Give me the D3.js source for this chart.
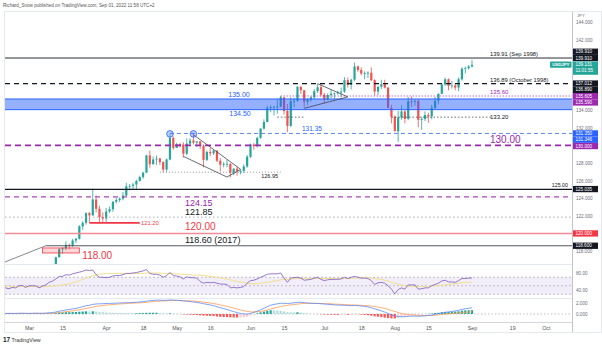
<!DOCTYPE html>
<html><head><meta charset="utf-8">
<script src="https://cdn.jsdelivr.net/npm/d3@7"></script>
<style>body{margin:0;background:#fff}svg{display:block;font-family:"Liberation Sans",Arial,sans-serif}</style>
</head><body><svg id="c" width="602" height="346"></svg>
<script>
// ---------------- DATA ----------------
const firstDay = "2022-02-16";
const opens = [115.55,115.45,114.95,115.00,114.75,115.10,115.00,115.50,115.55,
114.95,114.90,115.50,115.50,114.80,115.30,115.70,115.85,116.10,117.30,118.20,118.30,118.70,118.60,119.20,119.40,120.80,121.20,122.30,122.05,123.85,122.80,121.85,
121.70,122.50,122.75,123.60,123.80,123.95,124.30,125.35,125.40,125.55,125.95,126.40,126.90,128.85,127.85,128.40,128.50,128.10,127.25,128.40,130.85,
129.70,130.15,130.10,129.05,130.20,130.55,130.30,130.45,129.95,128.35,129.25,129.10,129.40,128.25,127.80,127.90,127.90,126.90,127.35,127.10,127.10,127.60,
128.70,130.10,129.90,130.85,131.90,132.65,134.25,134.35,134.40,134.40,135.45,133.90,132.20,135.00,135.05,136.65,136.25,134.95,135.20,135.45,136.15,136.60,
135.75,135.20,135.70,135.85,135.90,136.00,136.10,137.40,136.85,137.45,138.95,138.55,138.15,138.20,138.25,137.40,136.10,136.65,136.95,136.55,134.25,
133.25,131.60,133.15,133.85,133.00,135.00,134.95,135.05,132.90,133.00,133.45,133.30,134.25,135.05,135.85,136.90,137.50,136.75,136.80,136.55,137.50,138.70,138.75,
138.95];
const highs = [115.75,115.50,115.20,115.10,115.15,115.25,115.70,115.75,115.60,
115.20,115.60,115.80,115.55,115.45,115.80,116.00,116.20,117.35,118.35,118.45,119.10,118.85,119.40,119.50,120.95,121.40,122.40,122.45,125.10,124.30,123.15,122.40,
122.90,123.05,123.65,124.05,124.10,124.70,125.75,125.60,125.75,126.10,126.55,127.00,128.95,129.40,128.75,128.85,128.60,128.20,128.50,131.25,131.00,
130.30,130.25,130.35,130.80,130.80,131.35,130.45,130.45,130.10,129.40,129.75,129.50,129.45,128.55,128.10,128.35,127.95,127.40,127.55,127.30,127.85,128.90,
130.20,130.25,130.95,131.95,132.95,134.50,134.55,134.45,135.20,135.60,135.45,134.70,135.45,135.40,136.70,136.70,136.30,135.35,135.55,136.40,137.00,136.95,
135.95,135.90,136.35,136.00,136.20,136.55,137.75,137.70,137.55,139.40,139.05,138.85,138.40,138.40,138.85,137.50,136.70,137.45,137.45,136.60,134.60,
133.40,133.90,134.55,134.00,135.50,135.55,135.20,135.20,133.25,133.85,133.70,134.60,135.50,135.90,137.00,137.70,137.60,137.30,137.05,137.70,138.85,138.95,139.10,
139.70];
const lows = [115.00,114.85,114.75,114.45,114.55,114.95,114.40,115.30,114.85,
114.65,114.75,115.35,114.80,114.65,115.05,115.50,115.75,116.00,117.25,117.70,118.10,118.20,118.45,118.90,119.30,120.40,121.00,121.20,122.00,122.40,121.30,121.30,
121.30,122.30,122.45,123.40,123.55,123.75,124.25,124.90,125.05,125.00,125.90,126.20,126.85,127.45,127.85,127.75,127.75,126.95,127.00,128.30,129.50,
129.70,129.75,128.60,128.90,130.00,130.10,129.80,129.60,127.50,128.20,128.75,128.90,128.10,127.05,127.50,127.50,126.35,126.60,126.55,126.70,126.90,127.45,
128.55,129.50,129.75,130.75,131.80,132.60,133.75,133.40,133.60,134.30,133.50,131.50,132.10,134.35,134.95,135.80,134.30,134.55,134.95,135.25,135.95,135.55,
134.75,135.10,135.35,135.25,135.75,135.45,135.95,136.55,136.35,137.30,138.35,137.95,137.50,137.65,137.30,135.65,135.70,136.40,136.45,134.20,132.50,
131.60,130.40,132.90,132.50,132.85,134.35,134.50,132.05,131.75,132.75,132.55,132.95,134.15,134.65,135.80,136.75,136.25,136.45,136.25,136.15,137.35,138.15,138.60,
138.85];
const closes = [115.45,114.95,115.00,114.75,115.10,115.00,115.50,115.55,114.95,
114.90,115.50,115.50,114.80,115.30,115.70,115.85,116.10,117.30,118.20,118.30,118.70,118.60,119.20,119.40,120.80,121.20,122.30,122.05,123.85,122.80,121.85,121.70,
122.50,122.75,123.60,123.80,123.95,124.30,125.35,125.40,125.55,125.95,126.40,126.90,128.85,127.85,128.40,128.50,128.10,127.25,128.40,130.85,129.70,
130.15,130.10,129.05,130.20,130.55,130.30,130.45,129.95,128.35,129.25,129.10,129.40,128.25,127.80,127.90,127.90,126.90,127.35,127.10,127.10,127.60,128.70,
130.10,129.90,130.85,131.90,132.65,134.25,134.35,134.40,134.40,135.45,133.90,132.20,135.00,135.05,136.65,136.25,134.95,135.20,135.45,136.15,136.60,135.75,
135.20,135.70,135.85,135.90,136.00,136.10,137.40,136.85,137.45,138.95,138.55,138.15,138.20,138.25,137.40,136.10,136.65,136.95,136.55,134.25,133.25,
131.60,133.15,133.85,133.00,135.00,134.95,135.05,132.90,133.00,133.45,133.30,134.25,135.05,135.85,136.90,137.50,136.75,136.80,136.55,137.50,138.70,138.75,138.95,
139.13];
const rsi = [48,44,45,43,46,45,50,51,46, 50,50,50,45,49,52,58,61, 66,72,72,76,75,78,80,82, 84,87,86,87,76,70,70,
69,70,73,74,74,76,79, 79,80,81,83,85,88,79, 77,77,75,70,74,81,74, 73,71,66,71,69,69,68, 60,56,58,57,58,56,54,
54,53,45,46,45,46,48,56, 62,63,66,70,73,77,78, 78,78,80,68,58,68,69, 70,68,63,64,65,68,70,65, 62,64,65,65,65,66,70,
67,70,72,70,68,68,67, 62,53,57,58,56,50,42, 31,41,45,42,52,52,52, 42,43,45,45,50,53,56, 61,63,59,59,58,62,67,67,68,68];
const rsiMA = [50,50,49,49,48,48,48,48,48, 48,48,48,48,48,48,49,49, 50,51,52,53,55,57,59,62, 65,68,71,73,75,77,78,
79,79,79,79,79,79,79, 79,79,79,79,79,80,80, 80,80,80,79,79,79,78, 78,77,77,76,76,75,75, 75,74,73,72,71,70,69,
67,66,64,62,60,59,58,56, 55,55,55,56,57,58,59, 61,62,64,65,65,66,66, 67,67,67,67,67,67,67,67, 67,67,67,67,67,67,67,
67,67,68,68,68,69,69, 68,67,66,65,63,61,58, 56,54,52,50,49,48,48, 48,48,48,49,50,50,50, 51,52,53,54,55,56,57,58,58,58];
const macd = [0.1,0.1,0.1,0.1,0.1,0.1,0.12,0.14,0.12, 0.1,0.12,0.15,0.12,0.12,0.15,0.2,0.25, 0.35,0.5,0.6,0.72,0.8,0.9,1.0,1.15,
1.3,1.45,1.55,1.7,1.78,1.8,1.82, 1.85,1.88,1.9,1.92,1.95,1.97,2.0, 2.02,2.05,2.08,2.12,2.18,2.28,2.35, 2.4,2.45,2.45,2.42,2.42,2.48,2.46,
2.42,2.38,2.3,2.26,2.2,2.12,2.05, 1.95,1.82,1.72,1.6,1.48,1.3,1.12, 0.95,0.8,0.6,0.42,0.25,0.1,0.0,-0.02,
0.1,0.3,0.5,0.75,1.0,1.3,1.55, 1.7,1.8,1.9,1.9,1.85,1.92,1.98, 2.05,2.08,2.02,1.95,1.9,1.88,1.86,1.82,
1.76,1.72,1.68,1.62,1.58,1.55,1.55, 1.5,1.48,1.5,1.48,1.42,1.35,1.25, 1.1,0.9,0.75,0.55,0.35,0.1,-0.15,
-0.35,-0.45,-0.48,-0.48,-0.42,-0.38,-0.36, -0.4,-0.38,-0.32,-0.25,-0.18,-0.05,0.05, 0.2,0.3,0.38,0.45,0.55,0.65,0.8,0.92,1.02,1.1];
const signal = [0.1,0.1,0.1,0.1,0.1,0.1,0.1,0.1,0.1, 0.1,0.1,0.11,0.11,0.11,0.12,0.13,0.15, 0.19,0.25,0.32,0.4,0.48,0.56,0.65,0.75,
0.86,0.98,1.1,1.22,1.33,1.42,1.5, 1.57,1.63,1.68,1.73,1.77,1.81,1.85, 1.88,1.92,1.95,1.98,2.02,2.07,2.13, 2.18,2.23,2.28,2.31,2.33,2.36,2.38,
2.39,2.39,2.37,2.35,2.32,2.28,2.23, 2.18,2.1,2.03,1.94,1.85,1.74,1.62, 1.49,1.35,1.2,1.04,0.88,0.72,0.58,0.46,
0.38,0.36,0.39,0.46,0.57,0.71,0.88, 1.04,1.19,1.33,1.44,1.53,1.61,1.68, 1.75,1.82,1.86,1.88,1.88,1.88,1.88,1.87,
1.85,1.82,1.8,1.76,1.73,1.7,1.67, 1.64,1.61,1.59,1.57,1.54,1.5,1.46, 1.4,1.32,1.23,1.12,0.99,0.82,0.63,
0.44,0.26,0.11,-0.01,-0.1,-0.16,-0.2, -0.24,-0.27,-0.28,-0.28,-0.26,-0.22,-0.17, -0.1,-0.04,0.02,0.07,0.12,0.17,0.22,0.28,0.35,0.42];
const hist = [0,0,0,0,0,0,0.02,0.04,0.02, 0,0.02,0.04,0.01,0.01,0.03,0.07,0.1, 0.16,0.25,0.28,0.32,0.32,0.34,0.35,0.4,
0.44,0.47,0.45,0.48,0.45,0.38,0.32, 0.28,0.25,0.22,0.19,0.18,0.16,0.15, 0.14,0.13,0.13,0.14,0.16,0.21,0.22, 0.22,0.22,0.17,0.11,0.09,0.12,0.08,
0.03,-0.01,-0.07,-0.09,-0.12,-0.16,-0.18, -0.23,-0.28,-0.31,-0.34,-0.37,-0.44,-0.5, -0.54,-0.55,-0.6,-0.62,-0.63,-0.62,-0.58,-0.48,
-0.28,-0.06,0.11,0.29,0.43,0.59,0.67, 0.66,0.61,0.57,0.46,0.32,0.31,0.3, 0.3,0.26,0.16,0.07,0.02,0,-0.02,-0.05,
-0.09,-0.1,-0.12,-0.14,-0.15,-0.15,-0.12, -0.14,-0.13,-0.09,-0.09,-0.12,-0.15,-0.21, -0.3,-0.42,-0.48,-0.57,-0.64,-0.72,-0.78,
-0.79,-0.71,-0.59,-0.47,-0.32,-0.22,-0.16, -0.16,-0.11,-0.04,0.03,0.08,0.17,0.22, 0.3,0.34,0.36,0.38,0.43,0.48,0.58,0.64,0.67,0.68];

const xTickDates  = ["2022-03-01","2022-03-15","2022-04-01","2022-04-18","2022-05-02","2022-05-16","2022-06-01","2022-06-15","2022-07-01","2022-07-18","2022-08-01","2022-08-15","2022-09-01","2022-09-19","2022-10-03"];
const xTickLabels = ["Mar","15","Apr","18","May","16","Jun","15","Jul","18","Aug","15","Sep","19","Oct"];
const priceTicks = [144,142,140,138,136,134,132,130,128,126,124,122,120,118];
const rsiTicks = [80,40];
const macdTicks = [2,0];
const tagPrices = [139.910,139.910,139.131,137.012,136.890,135.605,135.590,131.350,131.346,130.000,125.035,120.000,118.600];
const tagKinds  = ["black","black","last","black","black","purple","purple","blue","blue","purple","black","red","black"];
const lastTime = "11:01:55";
const symbol = "USDJPY";
const header = "Richard_Snow published on TradingView.com, Sep 01, 2022 11:58 UTC+2";

// drawn levels / annotations (prices, dates)
const lvlSep1998 = 139.91, lblSep1998 = "139.91 (Sep 1998)";
const lvlOct1998 = 137.012, lblOct1998 = "136.89 (October 1998)";
const lvl13560 = 135.60;
const zoneTop = 135.26, zoneBottom = 134.05, zoneLblTop = "135.00", zoneLblBottom = "134.50";
const lvl13320 = 133.20;
const lvl13135 = 131.35;
const lvl130 = 130.00;
const lvl12695 = 126.95;
const lvl125 = 125.00;
const lvl12415 = 124.15;
const lvl12185 = 121.85;
const lvl12120 = 121.20;
const lvl120 = 120.00;
const lvl11860 = 118.60, lbl11860 = "118.60 (2017)";
const box118 = {d0:"2022-03-07", d1:"2022-03-22", top:118.35, bottom:117.78, label:"118.00"};
const trendLeft = [["2022-02-16",116.48],["2022-03-08",118.6]];
const circlePts = [["2022-04-28",131.3],["2022-05-09",131.3]];
const wedgeUpper = [["2022-05-09",131.2],["2022-05-27",127.3]];
const wedgeLower = [["2022-05-04",128.75],["2022-05-23",126.4],["2022-05-27",127.25]];
const triUpper = [["2022-06-29",137.0],["2022-07-12",135.5]];
const triLower = [["2022-06-23",134.2],["2022-07-12",135.5]];

// ---------------- SCALES ----------------
const parse = d3.timeParse("%Y-%m-%d"), fmt = d3.timeFormat("%Y-%m-%d");
const calendar = d3.timeDay.range(parse(firstDay), parse("2022-11-30")).filter(d => d.getDay() % 6 !== 0).map(fmt);
const idx = new Map(calendar.map((d,i)=>[d,i]));
const PL = 5, PR = 572;
const x = d3.scaleLinear().domain([1.85, 170.8]).range([PL, PR]);
const xd = d => x(idx.get(d));
const P = {top:12, bottom:264}, R = {top:264, bottom:298}, M = {top:298, bottom:322};
const y = d3.scaleLinear().domain([116.53, 145.135]).range([P.bottom, P.top]);
const yr = d3.scaleLinear().domain([21.18, 101.18]).range([R.bottom, R.top]);
const ym = d3.scaleLinear().domain([-1.416, 2.832]).range([M.bottom, M.top]);
const X0 = x.domain()[0], X1 = x.domain()[1];

const svg = d3.select("#c");
const defs = svg.append("defs");
[["cp",P],["cr",R],["cm",M]].forEach(([id,p])=>defs.append("clipPath").attr("id",id).append("rect").attr("x",PL).attr("y",p.top).attr("width",PR-PL).attr("height",p.bottom-p.top));

svg.append("rect").attr("width",602).attr("height",346).attr("fill","#fff");
svg.append("text").attr("x",3).attr("y",7).attr("font-size",4.6).attr("fill","#555").text(header);

// frame
const frame = svg.append("g").attr("stroke","#e0e3eb").attr("stroke-width",0.8).attr("fill","none");
frame.append("rect").attr("x",PL-0.5).attr("y",11.5).attr("width",602-PL).attr("height",321);
frame.append("line").attr("x1",PL).attr("x2",PR).attr("y1",R.top+0.5).attr("y2",R.top+0.5);
frame.append("line").attr("x1",PL).attr("x2",PR).attr("y1",M.top+0.5).attr("y2",M.top+0.5);
frame.append("line").attr("x1",PL).attr("x2",PR).attr("y1",M.bottom+0.5).attr("y2",M.bottom+0.5).attr("stroke","#c9ccd4");
svg.append("line").attr("x1",PR+0.5).attr("x2",PR+0.5).attr("y1",12).attr("y2",332).attr("stroke","#b2b5be").attr("stroke-width",0.8);

// ---------------- PRICE PANE ----------------
const gp = svg.append("g").attr("clip-path","url(#cp)");
const bw = 2.2;
const bars = d3.range(closes.length);
const up = "#26a69a", dn = "#ef5350";
gp.append("g").selectAll("line").data(bars).join("line")
  .attr("x1",i=>x(i)).attr("x2",i=>x(i)).attr("y1",i=>y(highs[i])).attr("y2",i=>y(lows[i]))
  .attr("stroke",i=>closes[i]>=opens[i]?up:dn).attr("stroke-width",0.8);
gp.append("g").selectAll("rect").data(bars).join("rect")
  .attr("x",i=>x(i)-bw/2).attr("width",bw)
  .attr("y",i=>y(Math.max(opens[i],closes[i])))
  .attr("height",i=>Math.max(0.8,Math.abs(y(opens[i])-y(closes[i]))))
  .attr("fill",i=>closes[i]>=opens[i]?up:dn);

const ann = gp.append("g");
function hline(p, i0, i1, color, w, dash){
  const l = ann.append("line").attr("x1",x(i0)).attr("x2",x(i1)).attr("y1",y(p)).attr("y2",y(p))
    .attr("stroke",color).attr("stroke-width",w);
  if(dash) l.attr("stroke-dasharray",dash);
  return l;
}
function label(t, xx, yy, color, size, anchor, weight){
  ann.append("text").attr("x",xx).attr("y",yy).attr("fill",color).attr("font-size",size)
    .attr("text-anchor",anchor||"start").attr("font-weight",weight||"normal").text(t);
}
const line = d3.line().x(d=>xd(d[0])).y(d=>y(d[1]));

// zone
ann.append("rect").attr("x",x(X0)).attr("width",x(X1)-x(X0)).attr("y",y(zoneTop)).attr("height",y(zoneBottom)-y(zoneTop))
  .attr("fill","rgba(41,98,255,0.5)");
hline(zoneTop,X0,X1,"#2962ff",1);
hline(zoneBottom,X0,X1,"#2962ff",1);
label(zoneLblTop, 239, y(zoneTop)-1.8, "#2962ff", 7, "middle");
label(zoneLblBottom, 240, y(zoneBottom)+6.8, "#2962ff", 7, "middle");

hline(lvlSep1998,X0,X1,"#131722",0.9);
label(lblSep1998, 490, y(lvlSep1998)-2, "#131722", 5.8);
hline(lvlOct1998,X0,X1,"#131722",1.2,"5,4");
label(lblOct1998, 490, y(lvlOct1998)-1.5, "#131722", 5.8);
hline(lvl13560, idx.get("2022-06-14"), X1, "#9c27b0", 1, "1,2");
label("135.60", 490, y(lvl13560)-2.2, "#9c27b0", 6);
hline(lvl13320, idx.get("2022-06-13"), idx.get("2022-06-23"), "#434651", 0.8, "1.5,2");
hline(lvl13320, idx.get("2022-07-29"), idx.get("2022-09-09"), "#434651", 0.8, "1.5,2");
label("133.20", 490, y(lvl13320)+2.2, "#131722", 6);
hline(lvl13135, idx.get("2022-04-28"), X1, "#5b87f0", 1, "4,3");
label("131.35", 302, y(lvl13135)-2, "#2962ff", 6.5);
hline(lvl130, X0, X1, "#9c27b0", 1.8, "6,4");
label("130.00", 490, y(lvl130)-2.5, "#9c27b0", 10);
hline(lvl12695, idx.get("2022-04-25"), idx.get("2022-06-14"), "#787b86", 0.8, "1,2");
label("126.95", 278, y(lvl12695)+6, "#131722", 5.5, "end");
hline(lvl125, X0, X1, "#131722", 1.3);
label("125.00", 568, y(lvl125)-2, "#131722", 5.3, "end");
hline(lvl12415, X0, X1, "#ab47bc", 1.2, "5,4");
label("124.15", 185, y(lvl12415)+9, "#9c27b0", 9);
hline(lvl12185, X0, X1, "#9598a1", 0.8, "1.5,2.5");
label("121.85", 185, y(lvl12185)-2.5, "#131722", 9);
hline(lvl12120, idx.get("2022-03-25"), idx.get("2022-04-15"), "#f23645", 1.8);
label("121.20", 141, y(lvl12120)+2.2, "#f23645", 5.8);
hline(lvl120, X0, X1, "#f28b93", 1.6);
label("120.00", 185, y(lvl120)-3, "#f23645", 10);
hline(lvl11860, idx.get("2022-03-08"), X1, "#434651", 0.9);
ann.append("path").attr("d",line(trendLeft)).attr("stroke","#787b86").attr("stroke-width",0.9).attr("fill","none");
label(lbl11860, 185, y(lvl11860)-3, "#131722", 9);
ann.append("rect").attr("x",xd(box118.d0)).attr("width",xd(box118.d1)-xd(box118.d0))
  .attr("y",y(box118.top)).attr("height",y(box118.bottom)-y(box118.top))
  .attr("fill","rgba(242,54,69,0.2)").attr("stroke","#f23645").attr("stroke-width",0.8);
label(box118.label, xd(box118.d1)+3, y(box118.bottom)+6, "#f23645", 10);

[wedgeUpper, wedgeLower, triUpper, triLower].forEach(pts=>
  ann.append("path").attr("d",line(pts)).attr("stroke","#434651").attr("stroke-width",0.8).attr("fill","none"));
ann.selectAll("circle").data(circlePts).join("circle")
  .attr("cx",d=>xd(d[0])).attr("cy",d=>y(d[1])).attr("r",3.3)
  .attr("fill","rgba(41,98,255,0.3)").attr("stroke","#2962ff").attr("stroke-width",0.8);

// ---------------- RSI PANE ----------------
const gr = svg.append("g").attr("clip-path","url(#cr)");
gr.append("rect").attr("x",PL).attr("width",PR-PL).attr("y",yr(70)).attr("height",yr(30)-yr(70)).attr("fill","rgba(126,87,194,0.1)");
[70,50,30].forEach(v=>gr.append("line").attr("x1",PL).attr("x2",PR).attr("y1",yr(v)).attr("y2",yr(v))
  .attr("stroke","#9598a1").attr("stroke-width",0.6).attr("stroke-dasharray","2,2"));
gr.append("path").attr("d",d3.line().x((d,i)=>x(i)).y(d=>yr(d))(rsiMA)).attr("fill","none").attr("stroke","#f0df8c").attr("stroke-width",1);
gr.append("path").attr("d",d3.line().x((d,i)=>x(i)).y(d=>yr(d))(rsi)).attr("fill","none").attr("stroke","#7e57c2").attr("stroke-width",0.8);

// ---------------- MACD PANE ----------------
const gm = svg.append("g").attr("clip-path","url(#cm)");
gm.append("line").attr("x1",PL).attr("x2",PR).attr("y1",ym(0)).attr("y2",ym(0)).attr("stroke","#9598a1").attr("stroke-width",0.6).attr("stroke-dasharray","1.5,2");
gm.append("g").selectAll("rect").data(bars).join("rect")
  .attr("x",i=>x(i)-1.1).attr("width",2.2)
  .attr("y",i=>ym(Math.max(0,hist[i]))).attr("height",i=>Math.abs(ym(0)-ym(hist[i])))
  .attr("fill",i=>{const h=hist[i], p=i>0?hist[i-1]:0;
     return h>=0 ? (h>=p?"#26a69a":"#b2dfdb") : (h<p?"#ff5252":"#ffcdd2");});
gm.append("path").attr("d",d3.line().x((d,i)=>x(i)).y(d=>ym(d))(signal)).attr("fill","none").attr("stroke","#ff9b50").attr("stroke-width",0.8);
gm.append("path").attr("d",d3.line().x((d,i)=>x(i)).y(d=>ym(d))(macd)).attr("fill","none").attr("stroke","#5b8af5").attr("stroke-width",0.8);

// ---------------- PRICE TAGS (stacked) ----------------
const tagColor = {black:"#131722", last:"#26a69a", purple:"#9c27b0", blue:"#2962ff", red:"#f23645"};
const tags = tagPrices.map((p,i)=>({p, kind:tagKinds[i], yc:y(p)}));
const H = 6.3;
const li = tags.findIndex(t=>t.kind==="last");
const ext = t => t.kind==="last" ? [3.4, 9.9] : [H/2, H/2];
for(let i=li-1;i>=0;i--){ const nb = tags[i+1]; const top = nb.yc-ext(nb)[0]; tags[i].yc = Math.min(tags[i].yc, top - H/2); }
for(let i=li+1;i<tags.length;i++){ const pb = tags[i-1]; const bot = pb.yc+ext(pb)[1]; tags[i].yc = Math.max(tags[i].yc, bot + H/2); }
const tagBoxes = tags.map(t=>[t.yc-ext(t)[0], t.yc+ext(t)[1]]);

// ---------------- AXES ----------------
function rightAxis(scale, ticks, f){
  const g = svg.append("g").attr("transform",`translate(${PR+3},0)`)
    .call(d3.axisRight(scale).tickValues(ticks).tickFormat(f).tickSize(0).tickPadding(1));
  g.select(".domain").remove();
  g.selectAll("text").attr("font-size",4.6).attr("fill","#6a6d78").attr("font-family","Liberation Sans, Arial, sans-serif");
}
// price ticks hidden where a tag covers them (as the platform does)
const visiblePriceTicks = priceTicks.filter(v=>{
  const c = y(v), a = c-2.3, b = c+2.3;
  return !tagBoxes.some(([t0,t1]) => Math.min(b,t1)-Math.max(a,t0) > 0.5);
});
rightAxis(y, visiblePriceTicks, d3.format(".3f"));
rightAxis(yr, rsiTicks, d3.format(".2f"));
rightAxis(ym, macdTicks, d3.format(".3f"));
svg.append("text").attr("x",577).attr("y",17).attr("font-size",4.2).attr("fill","#6a6d78").text("JPY");

const xg = svg.append("g").attr("transform",`translate(0,${M.bottom})`)
  .call(d3.axisBottom(x).tickValues(xTickDates.map(d=>idx.get(d))).tickFormat((d,i)=>xTickLabels[i]).tickSize(0).tickPadding(4));
xg.select(".domain").remove();
xg.selectAll("text").attr("font-size",5.3).attr("fill","#555").attr("font-family","Liberation Sans, Arial, sans-serif");

const tg = svg.append("g");
tags.forEach((t,i)=>{
  const [t0,t1] = tagBoxes[i];
  tg.append("rect").attr("x",PR+1).attr("width",25).attr("y",t0).attr("height",t1-t0).attr("fill",tagColor[t.kind]);
  tg.append("text").attr("x",PR+3.5).attr("y",t.yc+1.6).attr("font-size",4.6).attr("fill","#fff").text(d3.format(".3f")(t.p));
  if(t.kind==="last") tg.append("text").attr("x",PR+3.5).attr("y",t.yc+7.6).attr("font-size",4.6).attr("fill","#fff").text(lastTime);
});
// symbol tag
const last = tags[li];
tg.append("rect").attr("x",550).attr("width",21.5).attr("y",last.yc-3.3).attr("height",6.2).attr("fill","#26a69a").attr("rx",0.8);
tg.append("text").attr("x",560.8).attr("y",last.yc+1.4).attr("font-size",4.3).attr("fill","#fff").attr("text-anchor","middle").attr("font-weight","bold").text(symbol);

// logo
svg.append("text").attr("x",3).attr("y",342).attr("font-size",6.5).attr("font-weight","bold").attr("fill","#131722").text("17");
svg.append("text").attr("x",11.5).attr("y",341.6).attr("font-size",5.3).attr("fill","#333").text("TradingView");
</script></body></html>
